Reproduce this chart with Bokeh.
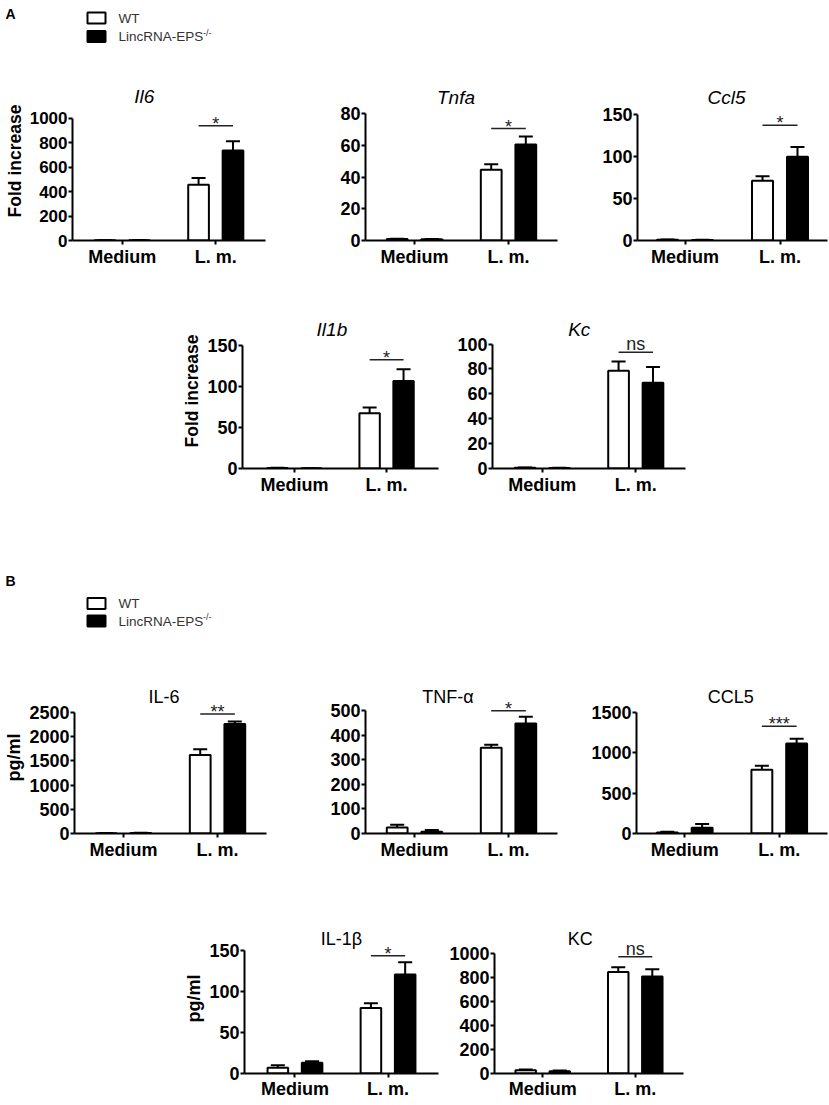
from bokeh.plotting import figure
from bokeh.layouts import row, column
from bokeh.models import (ColumnDataSource, FactorRange, Range1d, FixedTicker, Whisker,
                          TeeHead, Spacer)
from bokeh.transform import dodge
from bokeh.embed import file_html
from bokeh.resources import INLINE
from bokeh.core.properties import value

FONT = "Liberation Sans"

# ---------------- data ----------------
groups = ["Medium", "L. m."]
legend_labels = ["WT", "LincRNA-EPS"]
legend_fills = ["white", "black"]
legend_sup = "-/-"

# Panel A : qPCR, fold increase (mean, SEM)
il6_wt, il6_wt_sem = [1.5, 456], [0.5, 55]
il6_ko, il6_ko_sem = [3.0, 735], [1.0, 77]
il6_sig, il6_mark = 937, "*"
il6_ticks = [0, 200, 400, 600, 800, 1000]

tnfa_wt, tnfa_wt_sem = [0.9, 44.5], [0.2, 3.5]
tnfa_ko, tnfa_ko_sem = [0.8, 60.5], [0.2, 5.0]
tnfa_sig, tnfa_mark = 70.5, "*"
tnfa_ticks = [0, 20, 40, 60, 80]

ccl5_wt, ccl5_wt_sem = [1.0, 71], [0.3, 5.5]
ccl5_ko, ccl5_ko_sem = [0.6, 99.5], [0.2, 11.5]
ccl5_sig, ccl5_mark = 137, "*"
ccl5_ticks = [0, 50, 100, 150]

il1b_wt, il1b_wt_sem = [0.6, 67.5], [0.2, 7.0]
il1b_ko, il1b_ko_sem = [0.3, 107], [0.1, 14.5]
il1b_sig, il1b_mark = 133, "*"
il1b_ticks = [0, 50, 100, 150]

kc_wt, kc_wt_sem = [0.6, 78.5], [0.2, 7.5]
kc_ko, kc_ko_sem = [0.5, 69], [0.2, 12.5]
kc_sig, kc_mark = 93.5, "ns"
kc_ticks = [0, 20, 40, 60, 80, 100]

# Panel B : ELISA, pg/ml (mean, SEM)
IL6_wt, IL6_wt_sem = [5, 1620], [3, 120]
IL6_ko, IL6_ko_sem = [12, 2260], [4, 55]
IL6_sig, IL6_mark = 2470, "**"
IL6_ticks = [0, 500, 1000, 1500, 2000, 2500]

TNF_wt, TNF_wt_sem = [24, 349], [12, 12]
TNF_ko, TNF_ko_sem = [7, 448], [7, 27]
TNF_sig, TNF_mark = 500, "*"
TNF_ticks = [0, 100, 200, 300, 400, 500]

CCL5_wt, CCL5_wt_sem = [12, 790], [10, 50]
CCL5_ko, CCL5_ko_sem = [72, 1115], [45, 60]
CCL5_sig, CCL5_mark = 1330, "***"
CCL5_ticks = [0, 500, 1000, 1500]

IL1B_wt, IL1B_wt_sem = [7, 80], [3, 6]
IL1B_ko, IL1B_ko_sem = [13, 121], [2, 15]
IL1B_sig, IL1B_mark = 144, "*"
IL1B_ticks = [0, 50, 100, 150]

KC_wt, KC_wt_sem = [28, 848], [6, 40]
KC_ko, KC_ko_sem = [18, 810], [8, 62]
KC_sig, KC_mark = 976, "ns"
KC_ticks = [0, 200, 400, 600, 800, 1000]

# ---------------- styling / layout ----------------
BAR_OFF = 0.184
BAR_W = 0.221
UNIT = 95.0
PAGE_W = 828
TITLE_ROOM = 16


def make_panel(title, italic, wt, wt_sem, ko, ko_sem, sig, mark, ticks, ylabel,
               band_x, band_y, frame_x, frame_y, title_xy, tick_px, xstand=2):
    bx0, bx1 = band_x
    by0, by1 = band_y
    fl, fr = frame_x
    ft, fb = frame_y
    w, h = bx1 - bx0, by1 - by0
    fw = fr - fl
    pad = max(fw / UNIT - 2.0, 0.0)
    u = fw / (2.0 + pad)
    dpp = ticks[-1] / float(fb - ft)          # data units per pixel
    ft_ext = title_xy[1] - TITLE_ROOM          # frame extended up to hold the title
    p = figure(width=w, height=h,
               x_range=FactorRange(factors=groups, range_padding=pad,
                                   range_padding_units="absolute"),
               y_range=Range1d(0, (fb - ft_ext) * dpp),
               min_border_left=fl - bx0, min_border_right=bx1 - fr,
               min_border_top=ft_ext - by0, min_border_bottom=by1 - fb,
               output_backend="svg", toolbar_location=None, tools="")
    p.outline_line_color = None
    p.xgrid.visible = False
    p.ygrid.visible = False

    src_wt = ColumnDataSource(dict(g=groups, top=wt, hi=[v + s for v, s in zip(wt, wt_sem)]))
    src_ko = ColumnDataSource(dict(g=groups, top=ko, hi=[v + s for v, s in zip(ko, ko_sem)]))
    for src, off, fill in ((src_wt, -BAR_OFF, "white"), (src_ko, BAR_OFF, "black")):
        p.vbar(x=dodge("g", off, range=p.x_range), top="top", bottom=0, width=BAR_W,
               source=src, fill_color=fill, line_color="black", line_width=2)
        p.add_layout(Whisker(source=src, base=dodge("g", off, range=p.x_range),
                             upper="hi", lower="top", line_color="black", line_width=2,
                             upper_head=TeeHead(size=14, line_width=2, line_color="black"),
                             lower_head=None))

    sig_src = ColumnDataSource(dict(g=[groups[1]], y=[sig], t=[mark]))
    p.segment(x0=dodge("g", -BAR_OFF, range=p.x_range), x1=dodge("g", BAR_OFF, range=p.x_range),
              y0="y", y1="y", source=sig_src, line_color="#222", line_width=1.5)
    p.text(x="g", y="y", text="t", source=sig_src, text_align="center",
           text_baseline="alphabetic", y_offset=(-8 if mark == "ns" else -2),
           text_font=value(FONT), text_font_size="18px", text_color="#222")

    # panel title, placed in the extended frame above the top tick
    g0_px = (pad / 2.0 + 0.5) * u
    p.text(x=[groups[0]], y=[(fb - title_xy[1]) * dpp], text=[title],
           x_offset=title_xy[0] - fl - g0_px, text_align="center", text_baseline="middle",
           text_font=value(FONT), text_font_size="19px" if italic else "18px",
           text_font_style="italic" if italic else "normal", text_color="black")

    p.axis.axis_line_width = 2
    p.axis.axis_line_color = "black"
    p.axis.major_tick_line_width = 2
    p.axis.major_tick_line_color = "black"
    p.axis.major_tick_in = 0
    p.axis.major_tick_out = 4
    p.axis.minor_tick_in = 0
    p.axis.minor_tick_out = 0
    p.axis.major_label_text_font = FONT
    p.axis.major_label_text_font_style = "bold"
    p.axis.major_label_text_color = "black"
    p.yaxis.ticker = FixedTicker(ticks=ticks, minor_ticks=[])
    p.yaxis.bounds = (0, ticks[-1])
    p.yaxis.major_label_text_font_size = f"{tick_px}px"
    p.yaxis.major_label_standoff = 1
    p.xaxis.major_label_text_font_size = "18px"
    p.xaxis.major_label_standoff = xstand
    if ylabel:
        p.yaxis.axis_label = ylabel
        p.yaxis.axis_label_text_font = FONT
        p.yaxis.axis_label_text_font_style = "bold"
        p.yaxis.axis_label_text_font_size = "17.5px" if ylabel.startswith("Fold") else "18px"
        p.yaxis.axis_label_text_color = "black"
        p.yaxis.axis_label_standoff = 2
    return p


def make_header(letter, band_h, letter_y, box_centers):
    # header strip: panel letter and legend; its ranges map 1:1 to pixels (y measured from top)
    hf = figure(width=PAGE_W, height=band_h, x_range=Range1d(0, PAGE_W), y_range=Range1d(band_h, 0),
                x_axis_type=None, y_axis_type=None, min_border=0,
                output_backend="svg", toolbar_location=None, tools="")
    hf.outline_line_color = None
    hf.text(x=[5], y=[letter_y], text=[letter], text_font=value(FONT),
            text_font_style="bold", text_font_size="14px", text_baseline="middle",
            text_color="black")
    leg = ColumnDataSource(dict(y=box_centers, fill=legend_fills, label=legend_labels))
    hf.rect(x=96, y="y", width=18, height=11, source=leg, fill_color="fill",
            line_color="black", line_width=2)
    hf.text(x=118, y="y", text="label", source=leg, text_baseline="middle",
            text_font=value(FONT), text_font_size="13.5px", text_color="#333")
    hf.text(x=[118 + 84.5], y=[box_centers[1] - 4], text=[legend_sup], text_baseline="middle",
            text_font=value(FONT), text_font_size="9px", text_color="#333")
    return hf


headA = make_header("A", 55, 13, [17.5, 36])

f_il6 = make_panel("Il6", True, il6_wt, il6_wt_sem, il6_ko, il6_ko_sem, il6_sig, il6_mark,
                   il6_ticks, "Fold increase", (0, 280), (55, 275), (72, 265), (118, 245),
                   (143, 96), 17)
f_tnfa = make_panel("Tnfa", True, tnfa_wt, tnfa_wt_sem, tnfa_ko, tnfa_ko_sem, tnfa_sig, tnfa_mark,
                    tnfa_ticks, None, (280, 560), (55, 275), (365, 557), (113, 240),
                    (455, 97), 18)
f_ccl5 = make_panel("Ccl5", True, ccl5_wt, ccl5_wt_sem, ccl5_ko, ccl5_ko_sem, ccl5_sig, ccl5_mark,
                    ccl5_ticks, None, (560, 828), (55, 275), (637, 827), (114, 241),
                    (726, 97), 18)
rowA1 = row(f_il6, f_tnfa, f_ccl5)

f_il1b = make_panel("Il1b", True, il1b_wt, il1b_wt_sem, il1b_ko, il1b_ko_sem, il1b_sig, il1b_mark,
                    il1b_ticks, "Fold increase", (160, 446), (275, 510), (242, 438), (343, 468),
                    (330, 326), 18)
f_kc = make_panel("Kc", True, kc_wt, kc_wt_sem, kc_ko, kc_ko_sem, kc_sig, kc_mark,
                  kc_ticks, None, (446, 720), (275, 510), (492, 685), (344, 470),
                  (578, 329), 18)
rowA2 = row(Spacer(width=160, height=235), f_il1b, f_kc)

headB = make_header("B", 155, 70, [93, 110.5])

f_IL6 = make_panel("IL-6", False, IL6_wt, IL6_wt_sem, IL6_ko, IL6_ko_sem, IL6_sig, IL6_mark,
                   IL6_ticks, "pg/ml", (0, 280), (665, 900), (74, 266), (713, 838),
                   (163, 697), 18)
f_TNF = make_panel("TNF-\u03b1", False, TNF_wt, TNF_wt_sem, TNF_ko, TNF_ko_sem, TNF_sig, TNF_mark,
                   TNF_ticks, None, (280, 560), (665, 900), (365, 557), (711, 837),
                   (447, 697), 18)
f_CCL5 = make_panel("CCL5", False, CCL5_wt, CCL5_wt_sem, CCL5_ko, CCL5_ko_sem, CCL5_sig, CCL5_mark,
                    CCL5_ticks, None, (560, 828), (665, 900), (636, 827), (708, 833),
                    (730, 692), 18)
rowB1 = row(f_IL6, f_TNF, f_CCL5)

f_IL1B = make_panel("IL-1\u03b2", False, IL1B_wt, IL1B_wt_sem, IL1B_ko, IL1B_ko_sem, IL1B_sig, IL1B_mark,
                    IL1B_ticks, "pg/ml", (160, 446), (900, 1104), (244, 438), (951, 1077),
                    (340, 939), 18, 1)
f_KC = make_panel("KC", False, KC_wt, KC_wt_sem, KC_ko, KC_ko_sem, KC_sig, KC_mark,
                  KC_ticks, None, (446, 720), (900, 1104), (491, 683), (947, 1073),
                  (577, 931), 18, 1)
rowB2 = row(Spacer(width=160, height=204), f_IL1B, f_KC)

layout = column(headA, rowA1, rowA2, headB, rowB1, rowB2)

open("out.html", "w").write(file_html(layout, INLINE))
